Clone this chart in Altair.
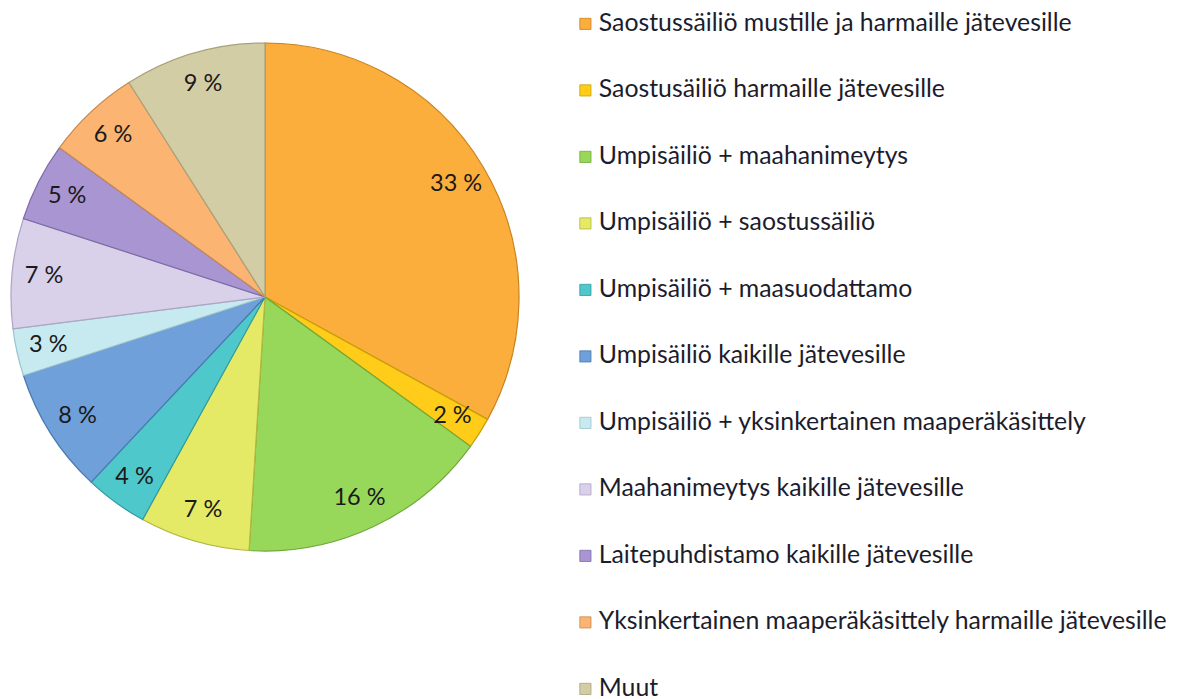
import altair as alt
import pandas as pd

categories = [
    "Saostussäiliö mustille ja harmaille jätevesille",
    "Saostusäiliö harmaille jätevesille",
    "Umpisäiliö + maahanimeytys",
    "Umpisäiliö + saostussäiliö",
    "Umpisäiliö + maasuodattamo",
    "Umpisäiliö kaikille jätevesille",
    "Umpisäiliö + yksinkertainen maaperäkäsittely",
    "Maahanimeytys kaikille jätevesille",
    "Laitepuhdistamo kaikille jätevesille",
    "Yksinkertainen maaperäkäsittely harmaille jätevesille",
    "Muut",
]
values = [33, 2, 16, 7, 4, 8, 3, 7, 5, 6, 9]
colors = ["#FBAE3C", "#FFCC1A", "#97D85A", "#E4EA66", "#4FC8CC", "#6FA0DA",
          "#C6EAF0", "#D9D1EA", "#A895D2", "#FBB472", "#D3CDA6"]
strokes = ["#C9821E", "#C9A000", "#6FA83A", "#B2B840", "#2E9A9E", "#4A78AE",
           "#9CC4CC", "#ADA3C4", "#7D6BA8", "#C88A50", "#A8A27C"]

df = pd.DataFrame({
    "cat": categories,
    "val": values,
    "order": list(range(len(values))),
    "label": [f"{v} %" for v in values],
})

FONT = "Lato"

base = alt.Chart(df).encode(
    theta=alt.Theta("val:Q", stack=True),
    order=alt.Order("order:Q", sort="ascending"),
)

pie = base.mark_arc(radius=254, strokeWidth=1.2).encode(
    color=alt.Color(
        "cat:N",
        scale=alt.Scale(domain=categories, range=colors),
        sort=categories,
        legend=alt.Legend(
            title=None,
            orient="none",
            legendX=564,
            legendY=3.5,
            symbolType="square",
            symbolSize=125,
            symbolStrokeWidth=0.8,
            symbolStrokeColor="#9a7a50",
            labelFont=FONT,
            labelFontSize=24.8,
            labelColor="#1c1c2c",
            labelLimit=700,
            labelOffset=1,
            rowPadding=40.5,
            padding=0,
        ),
    ),
    stroke=alt.Stroke(
        "cat:N",
        scale=alt.Scale(domain=categories, range=strokes),
        legend=None,
    ),
)

labels = base.mark_text(radius=222, font=FONT, fontSize=23.5, color="#1a1a1a").encode(
    text="label:N"
)

chart = (
    alt.layer(pie, labels)
    .properties(width=512, height=578, padding=0)
    .configure_view(stroke=None)
    .configure(background="white")
)

chart.save("out.html", embed_options={"renderer": "svg", "actions": False})
